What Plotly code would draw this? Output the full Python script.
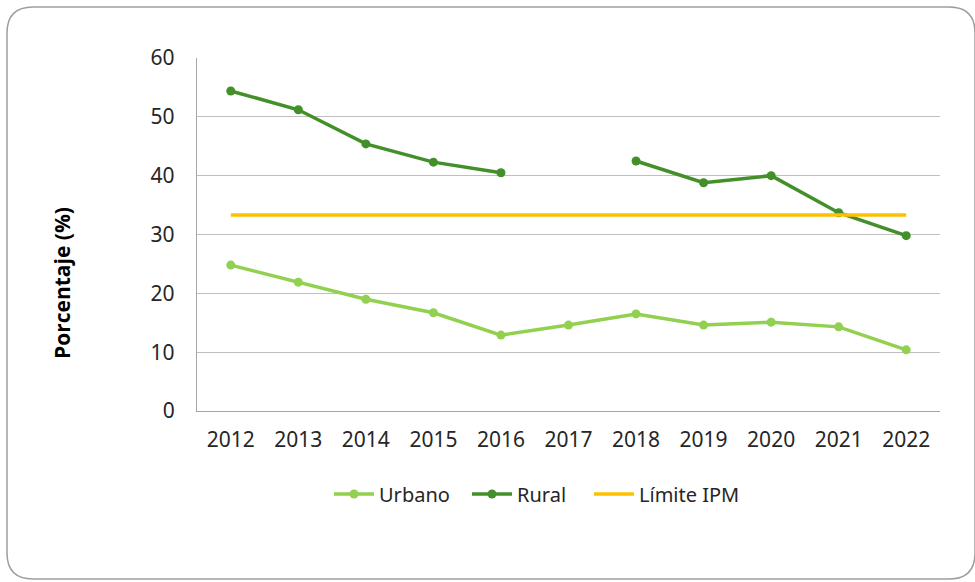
import plotly.graph_objects as go

years = ["2012", "2013", "2014", "2015", "2016", "2017", "2018", "2019", "2020", "2021", "2022"]
urbano = [24.8, 21.9, 19.0, 16.7, 12.9, 14.6, 16.5, 14.6, 15.1, 14.3, 10.4]
rural = [54.4, 51.2, 45.4, 42.3, 40.5, None, 42.5, 38.8, 40.0, 33.7, 29.8]
limite = [33.3] * len(years)

W, H = 975, 582
L, R, T, B = 197, 35, 58, 171
pw, ph = W - L - R, H - T - B

def px(x):
    return (x - L) / pw

def py(y):
    return (H - B - y) / ph

fig = go.Figure()
fig.add_trace(go.Scatter(x=years, y=urbano, name="Urbano", mode="lines+markers",
                         line=dict(color="#92d050", width=3.5),
                         marker=dict(size=9, color="#92d050"), legend="legend"))
fig.add_trace(go.Scatter(x=years, y=rural, name="Rural", mode="lines+markers",
                         connectgaps=False,
                         line=dict(color="#43902a", width=3.5),
                         marker=dict(size=9, color="#43902a"), legend="legend2"))
fig.add_trace(go.Scatter(x=years, y=limite, name="Límite IPM", mode="lines",
                         line=dict(color="#ffc000", width=3.5), legend="legend3"))

# rounded border
x0, x1, y0, y1, r = 7, 975, 7, 579, 26
rx, ry = r / pw, r / ph
X0, X1, Y0, Y1 = px(x0), px(x1), py(y0), py(y1)
path = (f"M {X0+rx},{Y0} L {X1-rx},{Y0} Q {X1},{Y0} {X1},{Y0-ry} "
        f"L {X1},{Y1+ry} Q {X1},{Y1} {X1-rx},{Y1} "
        f"L {X0+rx},{Y1} Q {X0},{Y1} {X0},{Y1+ry} "
        f"L {X0},{Y0-ry} Q {X0},{Y0} {X0+rx},{Y0} Z")

def leg(xpix):
    return dict(orientation="h", x=px(xpix), xanchor="left", y=py(494), yanchor="middle",
                font=dict(family="Noto Sans, sans-serif", size=20, color="#262626"),
                itemwidth=40, bgcolor="rgba(0,0,0,0)")

fig.update_layout(
    width=W, height=H,
    margin=dict(l=L, r=R, t=T, b=B),
    paper_bgcolor="white", plot_bgcolor="white",
    font=dict(family="Noto Sans, sans-serif", size=21, color="#262626"),
    showlegend=True,
    legend=leg(329), legend2=leg(467), legend3=leg(589),
    xaxis=dict(type="category", showgrid=False, showline=True, linecolor="#a6a6a6", linewidth=1.3,
               ticks="outside", ticklen=10, tickcolor="rgba(0,0,0,0)",
               tickfont=dict(size=21), range=[-0.5, 10.5]),
    yaxis=dict(range=[0, 60], dtick=10, showgrid=True, gridcolor="#bfbfbf", gridwidth=1,
               showline=True, linecolor="#a6a6a6", linewidth=1.3, zeroline=False,
               ticks="outside", ticklen=17, tickcolor="rgba(0,0,0,0)",
               tickfont=dict(size=21)),
    annotations=[dict(text="<b>Porcentaje (%)</b>", xref="paper", yref="paper",
                      x=px(62), y=py(283), xanchor="center", yanchor="middle",
                      textangle=-90, showarrow=False,
                      font=dict(family="Open Sans, sans-serif", size=21, color="#000000"))],
    shapes=[dict(type="path", xref="paper", yref="paper", path=path,
                 line=dict(color="#9e9e9e", width=1.5), layer="below")],
)

fig.write_html("out.html", config={"displayModeBar": False},
               post_script="document.body.style.margin='0';document.body.style.overflow='hidden';")
